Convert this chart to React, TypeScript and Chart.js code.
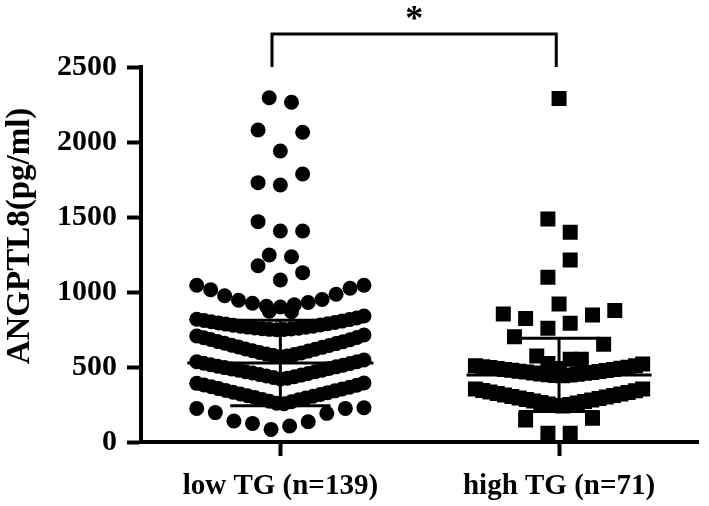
import React, { useEffect, useRef } from 'react';
import { Chart, registerables } from 'chart.js';

Chart.register(...registerables);

const categories = ['low TG (n=139)', 'high TG (n=71)'];
const yTicks = [0, 500, 1000, 1500, 2000, 2500];
const yTitle = 'ANGPTL8(pg/ml)';
const significance = '*';

// each row = one horizontal group of the dot plot, values listed left to right
const lowRows: number[][] = [
  [2295, 2265],
  [2080, 1940, 2065],
  [1729, 1713, 1787],
  [1469, 1407, 1407],
  [1247, 1235],
  [1175, 1080, 1129],
  [1045, 1015, 975, 945, 925, 905, 900, 915, 930, 950, 985, 1025, 1045],
  [872, 868],
  [818, 810, 802, 794, 786, 779, 772, 766, 760, 755, 751, 748, 750, 754, 759, 765, 772, 780, 788, 797, 806, 816, 827, 840],
  [707, 695, 683, 670, 658, 645, 633, 620, 608, 597, 586, 576, 569, 574, 583, 594, 606, 618, 631, 643, 656, 669, 682, 697, 713],
  [535, 525, 515, 505, 496, 487, 478, 469, 460, 450, 440, 430, 420, 425, 435, 446, 457, 468, 479, 490, 501, 512, 523, 535, 547],
  [391, 380, 368, 356, 344, 332, 320, 308, 296, 284, 272, 259, 255, 268, 281, 293, 305, 317, 329, 341, 353, 365, 378, 393],
  [224, 196, 140, 124, 84, 107, 135, 191, 224, 228],
];

const highRows: number[][] = [
  [2290],
  [1487, 1398],
  [1098, 1213],
  [920],
  [853, 824, 758, 791, 847, 876],
  [702, 573, 490, 551, 651],
  [524, 551],
  [508, 502, 496, 490, 484, 478, 472, 466, 460, 454, 448, 443, 441, 446, 452, 458, 464, 470, 477, 484, 491, 499, 508, 520],
  [353, 343, 333, 323, 313, 303, 293, 283, 273, 263, 253, 243, 240, 250, 260, 270, 280, 290, 300, 310, 320, 330, 341, 353],
  [147, 58, 58, 158],
];

// mean and SD
const lowMean = 527;
const lowSD = 285;
const highMean = 447;
const highSD = 244;

// significance bracket ends (category units) and height (axis units)
const bracketX = [-0.03, 0.99];
const bracketY = [2500, 2720];

function layoutRows(rows: number[][], center: number) {
  const pts: { x: number; y: number }[] = [];
  rows.forEach((row) => {
    const n = row.length;
    const step = n > 1 ? Math.min(0.08, 0.6 / (n - 1)) : 0;
    row.forEach((v, i) => {
      pts.push({ x: center + (i - (n - 1) / 2) * step, y: v });
    });
  });
  return pts;
}

function lineSet(data: { x: number; y: number }[], clip: any = undefined) {
  const ds: any = {
    data,
    showLine: true,
    borderColor: '#000',
    borderWidth: 3,
    pointRadius: 0,
    pointHoverRadius: 0,
    fill: false,
  };
  if (clip !== undefined) ds.clip = clip;
  return ds;
}

const FONT = '"Liberation Serif", "Times New Roman", serif';

const textPlugin = {
  id: 'extraTexts',
  afterDraw(chart: any) {
    const ctx = chart.ctx;
    const xs = chart.scales.x;
    const ys = chart.scales.y;
    ctx.save();
    ctx.fillStyle = '#000';
    ctx.font = `bold 33px ${FONT}`;
    ctx.translate(20, 236);
    ctx.rotate(-Math.PI / 2);
    ctx.textAlign = 'center';
    ctx.textBaseline = 'middle';
    ctx.fillText(yTitle, 0, 0);
    ctx.restore();

    ctx.save();
    ctx.fillStyle = '#000';
    ctx.font = `bold 36px ${FONT}`;
    ctx.textAlign = 'center';
    ctx.textBaseline = 'alphabetic';
    const cx = xs.getPixelForValue((bracketX[0] + bracketX[1]) / 2);
    const top = ys.getPixelForValue(bracketY[1]);
    ctx.fillText(significance, cx, top - 4);
    ctx.restore();
  },
};

export default function App() {
  const ref = useRef<HTMLCanvasElement | null>(null);

  useEffect(() => {
    if (!ref.current) return;
    const datasets: any[] = [
      {
        data: layoutRows(lowRows, 0),
        pointStyle: 'circle',
        pointRadius: 7.5,
        pointBorderWidth: 0,
        pointBackgroundColor: '#000',
        pointHoverRadius: 7.5,
        showLine: false,
      },
      {
        data: layoutRows(highRows, 1),
        pointStyle: 'rect',
        pointRadius: 10.6,
        pointBorderWidth: 0,
        pointBackgroundColor: '#000',
        pointHoverRadius: 10.6,
        showLine: false,
      },
      lineSet([{ x: -0.334, y: lowMean }, { x: 0.334, y: lowMean }]),
      lineSet([{ x: 0, y: lowMean - lowSD }, { x: 0, y: lowMean + lowSD }]),
      lineSet([{ x: -0.18, y: lowMean + lowSD }, { x: 0.18, y: lowMean + lowSD }]),
      lineSet([{ x: -0.18, y: lowMean - lowSD }, { x: 0.18, y: lowMean - lowSD }]),
      lineSet([{ x: 1 - 0.332, y: highMean }, { x: 1 + 0.332, y: highMean }]),
      lineSet([{ x: 1, y: highMean - highSD }, { x: 1, y: highMean + highSD }]),
      lineSet([{ x: 1 - 0.145, y: highMean + highSD }, { x: 1 + 0.145, y: highMean + highSD }]),
      lineSet([{ x: 1 - 0.145, y: highMean - highSD }, { x: 1 + 0.145, y: highMean - highSD }]),
      lineSet(
        [
          { x: bracketX[0], y: bracketY[0] },
          { x: bracketX[0], y: bracketY[1] },
          { x: bracketX[1], y: bracketY[1] },
          { x: bracketX[1], y: bracketY[0] },
        ],
        false
      ),
    ];

    const chart = new Chart(ref.current, {
      type: 'scatter',
      data: { datasets },
      plugins: [textPlugin],
      options: {
        animation: false,
        responsive: false,
        devicePixelRatio: 1,
        events: [],
        layout: { padding: { top: 67, right: 1, left: 0, bottom: 0 } },
        plugins: { legend: { display: false }, tooltip: { enabled: false } },
        elements: { line: { borderCapStyle: 'butt', tension: 0 } },
        scales: {
          x: {
            type: 'linear',
            min: -0.5,
            max: 1.5,
            afterBuildTicks: (s: any) => {
              s.ticks = categories.map((_, i) => ({ value: i }));
            },
            afterFit: (s: any) => {
              s.height = 64;
            },
            grid: {
              display: true,
              drawOnChartArea: false,
              drawTicks: true,
              tickLength: 14,
              tickWidth: 4,
              tickColor: '#000',
            },
            border: { display: true, width: 4, color: '#000' },
            ticks: {
              autoSkip: false,
              maxRotation: 0,
              padding: 13,
              color: '#000',
              font: { family: FONT, size: 29, weight: 'bold' },
              callback: (v: any) => categories[Math.round(Number(v))] ?? '',
            },
          },
          y: {
            type: 'linear',
            min: 0,
            max: 2500,
            afterBuildTicks: (s: any) => {
              s.ticks = yTicks.map((v) => ({ value: v }));
            },
            afterFit: (s: any) => {
              s.width = 141;
            },
            grid: {
              display: true,
              drawOnChartArea: false,
              drawTicks: true,
              tickLength: 14,
              tickWidth: 4,
              tickColor: '#000',
            },
            border: { display: true, width: 4, color: '#000' },
            ticks: {
              padding: 10,
              color: '#000',
              font: { family: FONT, size: 30, weight: 'bold' },
              callback: (v: any) => String(v),
            },
          },
        },
      } as any,
    });
    return () => chart.destroy();
  }, []);

  return (
    <div style={{ position: 'fixed', left: 0, top: 0, width: 709, height: 506, background: '#fff' }}>
      <canvas ref={ref} width={709} height={506} style={{ display: 'block', width: 709, height: 506 }} />
    </div>
  );
}
